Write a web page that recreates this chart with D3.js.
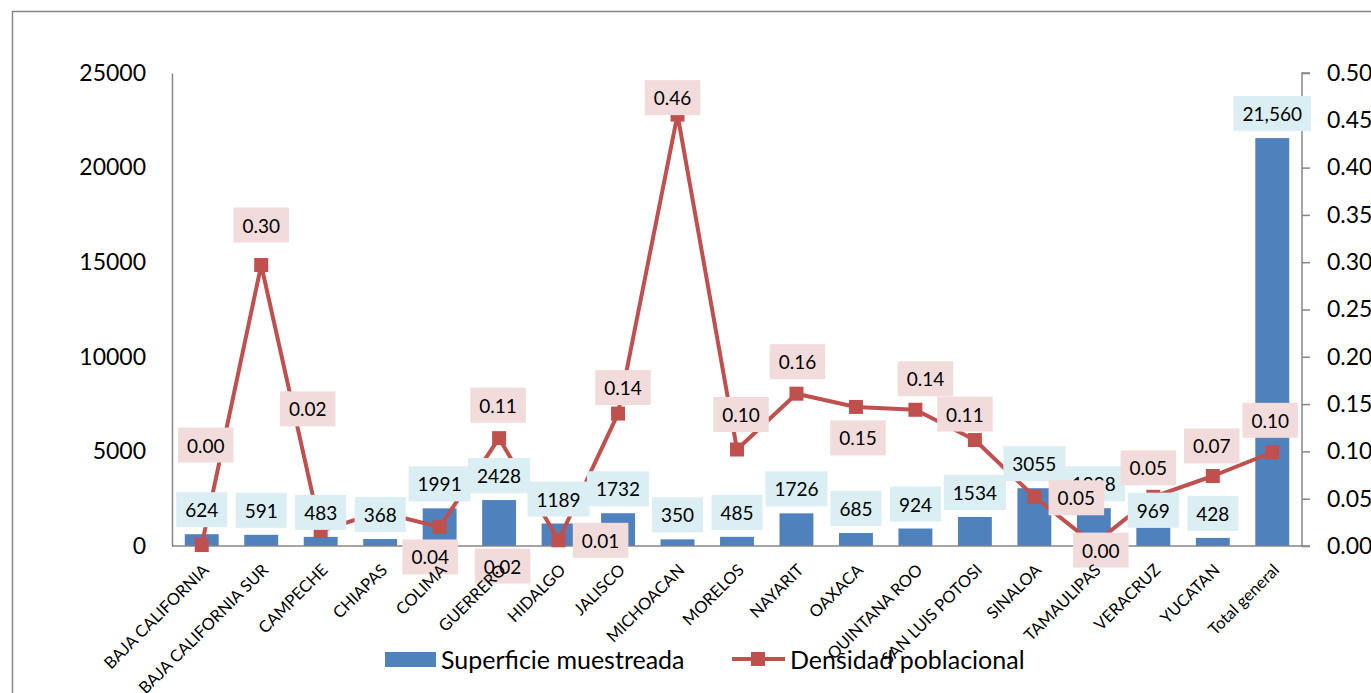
<!DOCTYPE html>
<html>
<head>
<meta charset="utf-8">
<script src="https://cdn.jsdelivr.net/npm/d3@7"></script>
<style>
  body { margin: 0; background: #fff; }
  text { font-family: Lato, "Open Sans", sans-serif; fill: #000; }
</style>
</head>
<body>
<div id="chart"></div>
<script>
var estados = ["BAJA CALIFORNIA", "BAJA CALIFORNIA SUR", "CAMPECHE", "CHIAPAS", "COLIMA",
               "GUERRERO", "HIDALGO", "JALISCO", "MICHOACAN", "MORELOS", "NAYARIT", "OAXACA",
               "QUINTANA ROO", "SAN LUIS POTOSI", "SINALOA", "TAMAULIPAS", "VERACRUZ",
               "YUCATAN", "Total general"];
var superficie = [624, 591, 483, 368, 1991, 2428, 1189, 1732, 350, 485, 1726, 685, 924,
                  1534, 3055, 1998, 969, 428, 21560];
var densidad = [0.001, 0.297, 0.016, 0.036, 0.020, 0.114, 0.006, 0.140, 0.456, 0.102,
                0.161, 0.147, 0.144, 0.112, 0.052, 0.002, 0.052, 0.074, 0.099];
var ticksIzq = [0, 5000, 10000, 15000, 20000, 25000];
var ticksDer = [0, 0.05, 0.10, 0.15, 0.20, 0.25, 0.30, 0.35, 0.40, 0.45, 0.50];
var series = ["Superficie muestreada", "Densidad poblacional"];

// where Excel left each density label, relative to its marker (px)
var lblDens = [[4, -100], [0, -40], [-13, -122], [50, 45], [63, 39], [-1, -33], [42, 0],
               [5, -26], [-5, -17], [4, -35], [1, -32], [2, 31], [10, -31], [-10, -26],
               [42, 1], [7, 6], [-5, -29], [-1, -30], [-2, -32]];
// extra drop of some area labels
var lblSup = [0, 0, 0, 0, 0, 0, 0, 0, 0, 0, 0, 0, 0, 0, 0, 0, 7, 0, 0];

var W = 1371, H = 693;
var pL = 172, pR = 1302, pT = 73, pB = 546;
var azul = "#4F81BD", rojo = "#C0504D", gris = "#868686";

var svg = d3.select("#chart").append("svg")
    .attr("width", W).attr("height", H);

// outer frame
svg.append("path")
   .attr("d", "M12.5," + H + "V11.5H" + W)
   .attr("fill", "none").attr("stroke", gris).attr("stroke-width", 1.5);

var x = d3.scaleBand().domain(estados).range([pL, pR])
          .paddingInner(0.43).paddingOuter(0.215);
var yL = d3.scaleLinear().domain([0, 25000]).range([pB, pT]);
var yR = d3.scaleLinear().domain([0, 0.5]).range([pB, pT]);
var cx = function(i) { return x(estados[i]) + x.bandwidth() / 2; };

// axes
var axL = svg.append("g").attr("transform", "translate(" + pL + ",0)")
    .call(d3.axisLeft(yL).tickValues(ticksIzq).tickSize(0).tickPadding(26).tickFormat(d3.format("d")));
var axR = svg.append("g").attr("transform", "translate(" + pR + ",0)")
    .call(d3.axisRight(yR).tickValues(ticksDer).tickSize(8).tickPadding(17).tickFormat(d3.format(".2f")));
[axL, axR].forEach(function(g) {
  g.select(".domain").attr("stroke", gris).attr("stroke-width", 1.5);
  g.selectAll(".tick line").attr("stroke", gris).attr("stroke-width", 1.5);
  g.selectAll(".tick text").attr("font-size", 23).attr("font-family", "Lato").attr("fill", "#000");
});
axR.select(".domain").attr("d", "M8," + pT + "H0V" + pB + "H8");

// bars
svg.selectAll("rect.bar").data(superficie).enter().append("rect")
   .attr("class", "bar")
   .attr("x", function(d, i) { return x(estados[i]); })
   .attr("y", function(d) { return yL(d); })
   .attr("width", x.bandwidth())
   .attr("height", function(d) { return pB - yL(d); })
   .attr("fill", azul);

// baseline
svg.append("line").attr("x1", pL).attr("x2", pR).attr("y1", pB).attr("y2", pB)
   .attr("stroke", gris).attr("stroke-width", 1.5);

// line + markers
var linea = d3.line().x(function(d, i) { return cx(i); }).y(function(d) { return yR(d); });
svg.append("path").datum(densidad).attr("d", linea)
   .attr("fill", "none").attr("stroke", rojo).attr("stroke-width", 4)
   .attr("stroke-linejoin", "round");
svg.selectAll("rect.mk").data(densidad).enter().append("rect")
   .attr("class", "mk")
   .attr("x", function(d, i) { return cx(i) - 7; })
   .attr("y", function(d) { return yR(d) - 7; })
   .attr("width", 14).attr("height", 14).attr("fill", rojo);

function etiqueta(g, txt, px, py, bg) {
  var t = g.append("text").attr("x", px).attr("y", py)
     .attr("text-anchor", "middle").attr("dominant-baseline", "central")
     .attr("font-size", 19).text(txt);
  var w = t.node().getComputedTextLength() + 18;
  g.insert("rect", "text").attr("x", px - w / 2).attr("y", py - 17.5)
   .attr("width", w).attr("height", 35).attr("fill", bg);
}

// area labels
var fmtSup = function(v) { return v >= 10000 ? d3.format(",")(v) : String(v); };
superficie.forEach(function(v, i) {
  var g = svg.append("g");
  etiqueta(g, fmtSup(v), cx(i), yL(v) - 7 - 17.5 + lblSup[i], "#DAEEF3");
});

// density labels
densidad.forEach(function(v, i) {
  var g = svg.append("g");
  etiqueta(g, v.toFixed(2), cx(i) + lblDens[i][0], yR(v) + lblDens[i][1], "#F2DCDB");
});

// category labels
svg.selectAll("text.cat").data(estados).enter().append("text")
   .attr("class", "cat")
   .attr("text-anchor", "end")
   .attr("font-size", 16.5)
   .attr("transform", function(d) {
     return "translate(" + (x(d) + x.bandwidth() / 2 + 4) + "," + 567 + ") rotate(-45)";
   })
   .attr("dy", "0.35em")
   .text(function(d) { return d; });

// legend
var lg = svg.append("g");
lg.append("rect").attr("x", 385).attr("y", 652).attr("width", 51).attr("height", 15).attr("fill", azul);
lg.append("text").attr("x", 441).attr("y", 659).attr("dominant-baseline", "central")
  .attr("font-size", 25).text(series[0]);
lg.append("line").attr("x1", 732).attr("x2", 785).attr("y1", 659).attr("y2", 659)
  .attr("stroke", rojo).attr("stroke-width", 4);
lg.append("rect").attr("x", 751).attr("y", 652).attr("width", 14).attr("height", 14).attr("fill", rojo);
lg.append("text").attr("x", 790).attr("y", 659).attr("dominant-baseline", "central")
  .attr("font-size", 25).text(series[1]);
</script>
</body>
</html>
